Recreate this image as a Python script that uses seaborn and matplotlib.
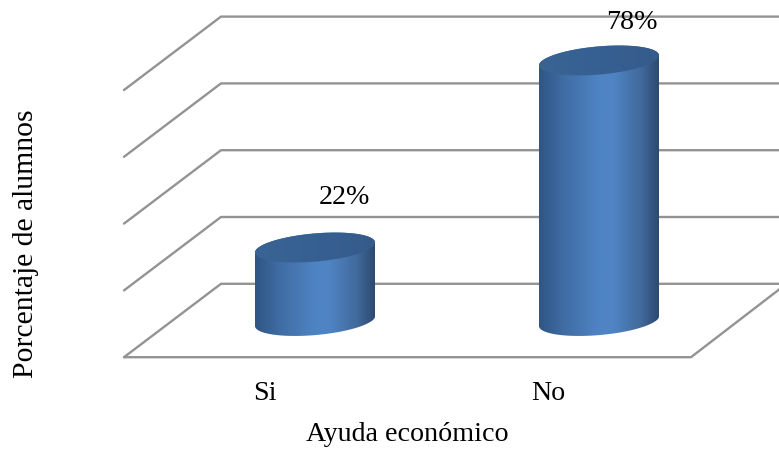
import numpy as np
import pandas as pd
import matplotlib
matplotlib.use("Agg")
import matplotlib.pyplot as plt
import seaborn as sns
from matplotlib.colors import LinearSegmentedColormap
from matplotlib.path import Path
from matplotlib.patches import PathPatch
from matplotlib.transforms import ScaledTranslation

categories = ["Si", "No"]
percent = [22, 78]
gridlines = [0, 20, 40, 60, 80]
x_title = "Ayuda económico"
y_title = "Porcentaje de alumnos"

W, H = 779, 452
FONT = 20.2
GRID = "#939393"
PX_PER_PCT = 3.34
PX_PER_CAT = 284.0
label_offsets = [(29, 51), (33, 39)]

sns.set_theme(style="white")
plt.rcParams["font.family"] = ["Liberation Serif", "DejaVu Serif"]

fig = plt.figure(figsize=(W / 100, H / 100), dpi=100)
L, R, T, B = 124, 691, 17, 357.5
ax = fig.add_axes([L / W, 1 - B / H, (R - L) / W, (B - T) / H])

df = pd.DataFrame({"categoria": categories, "porcentaje": percent})
sns.barplot(data=df, x="categoria", y="porcentaje", order=categories,
            width=120 / PX_PER_CAT, color="#4f81bd", saturation=1, ax=ax,
            errorbar=None, zorder=3)

# scales: first category centre at pixel 315, zero of the bars at pixel 322
x_of = lambda px: (px - 315) / PX_PER_CAT
y_of = lambda py: (322 - py) / PX_PER_PCT
ax.set_xlim(x_of(L), x_of(R))
ax.set_ylim(y_of(B), y_of(T))
ax.set_yticks([])
for s in ax.spines.values():
    s.set_visible(False)

# 3-D frame
front, back = y_of(358.2), y_of(284.8)
x_front, x_back, x_end = x_of(124), x_of(221), x_of(790)
line_kw = dict(color=GRID, lw=1.7, clip_on=False, zorder=1, solid_capstyle="round")
for v in gridlines:
    ax.plot([x_front, x_back, x_end], [front + v, back + v, back + v], **line_kw)
ax.plot([x_front, x_of(691), x_of(779 + 1)], [front, front, y_of(289.8)], **line_kw)

# cylinders built on the bars that seaborn drew
cmap = LinearSegmentedColormap.from_list("cyl", [
    (0.0, "#2f5583"), (0.2, "#3f6ca3"), (0.5, "#4f84c4"), (0.62, "#4f84c4"),
    (0.85, "#426a9c"), (1.0, "#2c4a70")])
cap = LinearSegmentedColormap.from_list("cap", ["#396493", "#376092", "#355b8a"])
grad = np.linspace(0, 1, 256)[None, :]
t = np.linspace(0, 2 * np.pi, 121)
half_w = 120 / PX_PER_CAT / 2
shear, minor = 5 / PX_PER_PCT, 14.1 / PX_PER_PCT

def ellipse(cx, cy, ts):
    return np.c_[cx + half_w * np.cos(ts), cy + shear * np.cos(ts) + minor * np.sin(ts)]

for bar, value in zip(ax.patches, percent):
    cx = bar.get_x() + bar.get_width() / 2
    lower = ellipse(cx, 0, np.linspace(np.pi, 2 * np.pi, 61))
    upper = ellipse(cx, value, np.linspace(0, np.pi, 61))
    outline = PathPatch(Path(np.vstack([lower, upper, lower[:1]])), transform=ax.transData)
    bar.set_clip_path(outline)
    im = ax.imshow(grad, cmap=cmap, aspect="auto", zorder=4, interpolation="bilinear",
                   extent=(cx - half_w, cx + half_w, -10, value + 10))
    im.set_clip_path(outline)
    top = PathPatch(Path(ellipse(cx, value, t)), transform=ax.transData)
    im2 = ax.imshow(grad, cmap=cap, aspect="auto", zorder=5, interpolation="bilinear",
                    extent=(cx - half_w, cx + half_w, value - 10, value + 10))
    im2.set_clip_path(top)

ax.set_xlim(x_of(L), x_of(R))
ax.set_ylim(y_of(B), y_of(T))

for i, value in enumerate(percent):
    ax.annotate(f"{value}%", xy=(i, value), xytext=label_offsets[i],
                textcoords="offset pixels", ha="center", va="center",
                fontsize=FONT, color="black", zorder=6, annotation_clip=False)

ax.tick_params(axis="x", length=0, pad=17, labelsize=FONT, colors="black")
shift = ScaledTranslation(-50.5 / 100, 0, fig.dpi_scale_trans)
for lab in ax.get_xticklabels():
    lab.set_transform(lab.get_transform() + shift)

ax.set_xlabel(x_title, fontsize=FONT, color="black", va="center")
ax.set_ylabel(y_title, fontsize=21.3, color="black", va="center")
ax.xaxis.set_label_coords(0.5, -(434.5 - B) / (B - T))
ax.yaxis.set_label_coords((25.5 - L) / (R - L), (B - 244) / (B - T))

fig.savefig("out.png", dpi=100, facecolor="white")
